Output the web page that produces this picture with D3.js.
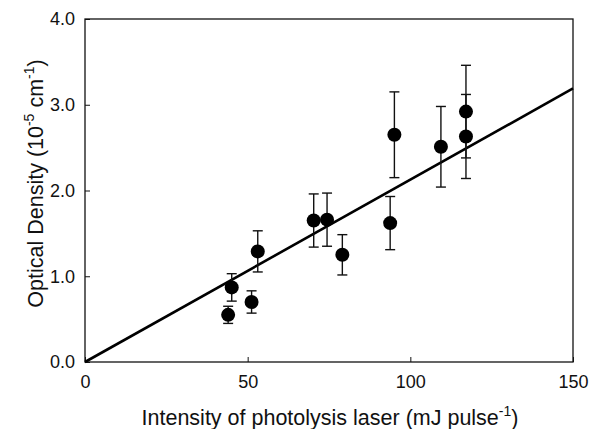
<!DOCTYPE html>
<html>
<head>
<meta charset="utf-8">
<script src="https://cdn.jsdelivr.net/npm/d3@7"></script>
<style>
  body { margin: 0; background: #fff; }
  svg { display: block; }
  text { font-family: "Liberation Sans", Arial, Helvetica, sans-serif; fill: #111; }
</style>
</head>
<body>
<svg id="chart" width="590" height="429"></svg>
<script>
// Data
const intensity = [44.0, 45.1, 51.2, 53.1, 70.3, 74.4, 79.1, 93.8, 95.1, 109.4, 117.1, 117.1];
const density   = [0.55, 0.87, 0.70, 1.29, 1.65, 1.66, 1.25, 1.62, 2.65, 2.51, 2.92, 2.63];
const errors    = [0.10, 0.16, 0.13, 0.24, 0.31, 0.31, 0.235, 0.31, 0.50, 0.47, 0.54, 0.49];
const fitLine   = [[0, 0], [150, 3.19]];
const xTicks = [0, 50, 100, 150];
const yTicks = [0, 1, 2, 3, 4];

const svg = d3.select("#chart");
const m = { left: 85, right: 573, top: 19, bottom: 362 };

const x = d3.scaleLinear().domain([0, 150]).range([m.left, m.right]);
const y = d3.scaleLinear().domain([0, 4]).range([m.bottom, m.top]);

// Frame
svg.append("rect")
  .attr("x", m.left).attr("y", m.top)
  .attr("width", m.right - m.left).attr("height", m.bottom - m.top)
  .attr("fill", "none").attr("stroke", "#111").attr("stroke-width", 1.3);

// Axes (ticks inward)
const xAxis = d3.axisBottom(x).tickValues(xTicks).tickSizeInner(-5).tickSizeOuter(0)
  .tickPadding(13).tickFormat(d3.format("d"));
const gx = svg.append("g").attr("transform", `translate(0,${m.bottom})`).call(xAxis);
gx.select(".domain").remove();
gx.selectAll("text").attr("font-size", 18).style("font-family", "'Liberation Sans', Arial, sans-serif").attr("fill", "#111");
gx.selectAll("line").attr("stroke", "#111");

const yAxis = d3.axisLeft(y).tickValues(yTicks).tickSizeInner(-5).tickSizeOuter(0)
  .tickPadding(10).tickFormat(d3.format(".1f"));
const gy = svg.append("g").attr("transform", `translate(${m.left},0)`).call(yAxis);
gy.select(".domain").remove();
gy.selectAll("text").attr("font-size", 18).style("font-family", "'Liberation Sans', Arial, sans-serif").attr("fill", "#111");
gy.selectAll("line").attr("stroke", "#111");

// Regression line
svg.append("path")
  .datum(fitLine)
  .attr("d", d3.line().x(d => x(d[0])).y(d => y(d[1])))
  .attr("stroke", "#000").attr("stroke-width", 2.6).attr("fill", "none");

const pts = intensity.map((v, i) => ({ x: v, y: density[i], e: errors[i] }));

// Error bars
const eb = svg.append("g").attr("stroke", "#111").attr("stroke-width", 1.4);
pts.forEach(p => {
  eb.append("line").attr("x1", x(p.x)).attr("x2", x(p.x))
    .attr("y1", y(p.y - p.e)).attr("y2", y(p.y + p.e));
  [p.y - p.e, p.y + p.e].forEach(v => {
    eb.append("line").attr("x1", x(p.x) - 5).attr("x2", x(p.x) + 5)
      .attr("y1", y(v)).attr("y2", y(v));
  });
});

// Points
svg.append("g").selectAll("circle").data(pts).join("circle")
  .attr("cx", d => x(d.x)).attr("cy", d => y(d.y)).attr("r", 7)
  .attr("fill", "#000");

// Axis titles
const xt = svg.append("text")
  .attr("x", (m.left + m.right) / 2 + 1).attr("y", 425)
  .attr("text-anchor", "middle").attr("font-size", 21.5);
xt.append("tspan").text("Intensity of photolysis laser (mJ pulse");
xt.append("tspan").attr("dy", -9).attr("font-size", 14).text("-1");
xt.append("tspan").attr("dy", 9).text(")");

const yt = svg.append("text")
  .attr("transform", `translate(43,${(m.top + m.bottom) / 2 - 7}) rotate(-90)`)
  .attr("text-anchor", "middle").attr("font-size", 21.5);
yt.append("tspan").text("Optical Density (10");
yt.append("tspan").attr("dy", -9).attr("font-size", 14).text("-5");
yt.append("tspan").attr("dy", 9).text(" cm");
yt.append("tspan").attr("dy", -9).attr("font-size", 14).text("-1");
yt.append("tspan").attr("dy", 9).text(")");
</script>
</body>
</html>
